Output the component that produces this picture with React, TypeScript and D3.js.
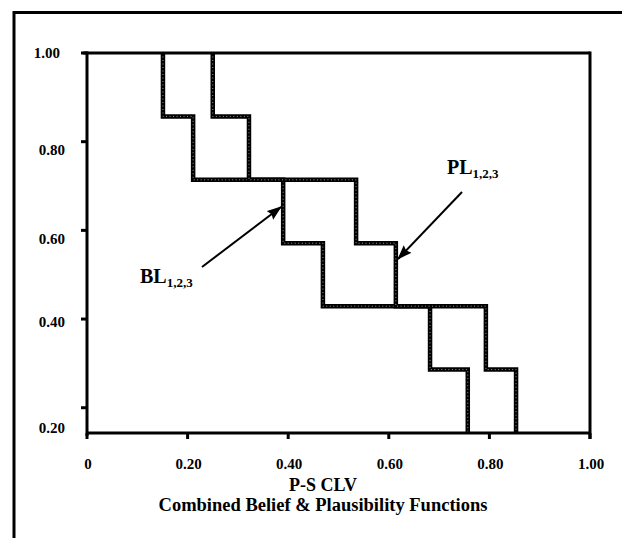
import React from "react";
import * as d3 from "d3";

// step positions (x) of the two combined functions
const beliefX = [0.151, 0.211, 0.39, 0.469, 0.682, 0.757];
const plausX = [0.25, 0.322, 0.535, 0.614, 0.793, 0.853];
// levels taken by both step functions
const levels = [1.0, 0.857, 0.714, 0.571, 0.429, 0.286, 0.143];
const xTicks = [0, 0.2, 0.4, 0.6, 0.8, 1.0];
const xTickLabels = ["0", "0.20", "0.40", "0.60", "0.80", "1.00"];
const yTicks = [1.0, 0.8, 0.6, 0.4, 0.2];
const yTickLabels = ["1.00", "0.80", "0.60", "0.40", "0.20"];
const yLabelOffset = [5, 13, 14, 8, 25];
const yLabelShift = [-5, 0, 0, 0, 0];

const W = 622;
const H = 538;
const FONT = "'Liberation Serif', 'Times New Roman', serif";

export default function App() {
  const x = d3.scaleLinear().domain([0, 1]).range([87, 590]);
  const y = d3.scaleLinear().domain([levels[levels.length - 1], 1]).range([433, 53]);

  const stepPts = (xs: number[]) => {
    const pts: [number, number][] = [[xs[0], levels[0]]];
    xs.forEach((v, i) => pts.push([v, levels[i + 1]]));
    return pts;
  };
  const line = d3
    .line<[number, number]>()
    .x((d) => x(d[0]))
    .y((d) => y(d[1]))
    .curve(d3.curveStepAfter);

  const bPath = line(stepPts(beliefX)) || "";
  const pPath = line(stepPts(plausX)) || "";

  const x0 = x(0);
  const x1 = x(1);
  const yTop = y(1);
  const yBot = y(levels[levels.length - 1]);

  return (
    <svg
      width={W}
      height={H}
      style={{ position: "absolute", left: 0, top: 0, background: "#fff" }}
      fontFamily={FONT}
    >
      <defs>
        <marker id="ah" viewBox="0 0 14 10" refX="13" refY="5" markerWidth="15" markerHeight="11" orient="auto" markerUnits="userSpaceOnUse">
          <path d="M0,0 L14,5 L0,10 L2,5 Z" fill="#000" />
        </marker>
      </defs>
      {/* outer frame */}
      <rect x={14} y={12.5} width={640} height={560} fill="none" stroke="#000" strokeWidth={3} />

      {/* step functions */}
      {[bPath, pPath].map((d, i) => (
        <g key={i}>
          <path d={d} fill="none" stroke="#000" strokeWidth={4.5} strokeLinejoin="miter" />
          <path d={d} fill="none" stroke="#fff" strokeWidth={1} strokeDasharray="1 2.5" opacity={0.6} />
        </g>
      ))}

      {/* plot frame */}
      <line x1={x0 - 4} x2={x1} y1={yTop} y2={yTop} stroke="#000" strokeWidth={3} />
      <line x1={x0} x2={x1} y1={yBot} y2={yBot} stroke="#000" strokeWidth={3} />
      <line x1={x0} x2={x0} y1={yTop - 1.5} y2={yBot + 3} stroke="#000" strokeWidth={3} />
      <line x1={x1} x2={x1} y1={yTop - 1.5} y2={yBot + 6} stroke="#000" strokeWidth={3} />

      {/* x ticks */}
      {xTicks.map((t, i) => (
        <g key={"x" + i}>
          <line x1={x(t)} x2={x(t)} y1={yBot} y2={yBot + 6} stroke="#000" strokeWidth={3} />
          <text x={x(t) + 1} y={yBot + 36} textAnchor="middle" fontSize={15} fontWeight="bold">
            {xTickLabels[i]}
          </text>
        </g>
      ))}

      {/* y ticks */}
      {yTicks.map((t, i) => (
        <g key={"y" + i}>
          <line x1={x0 - 6} x2={x0} y1={y(t)} y2={y(t)} stroke="#000" strokeWidth={3} />
          <text x={x0 - 22 + yLabelShift[i]} y={y(t) + yLabelOffset[i]} textAnchor="end" fontSize={15} fontWeight="bold">
            {yTickLabels[i]}
          </text>
        </g>
      ))}

      {/* annotations */}
      <line x1={202} y1={267} x2={281} y2={207} stroke="#000" strokeWidth={2} markerEnd="url(#ah)" />
      <text x={140} y={283} fontSize={20} fontWeight="bold">
        BL<tspan fontSize={13} dy={4}>1,2,3</tspan>
      </text>
      <line x1={462} y1={192} x2={398} y2={259} stroke="#000" strokeWidth={2} markerEnd="url(#ah)" />
      <text x={447} y={174} fontSize={20} fontWeight="bold">
        PL<tspan fontSize={13} dy={4}>1,2,3</tspan>
      </text>

      {/* axis titles */}
      <text x={323} y={491} textAnchor="middle" fontSize={18} fontWeight="bold">
        P-S CLV
      </text>
      <text x={323} y={511} textAnchor="middle" fontSize={18.5} fontWeight="bold">
        Combined Belief &amp; Plausibility Functions
      </text>
    </svg>
  );
}
